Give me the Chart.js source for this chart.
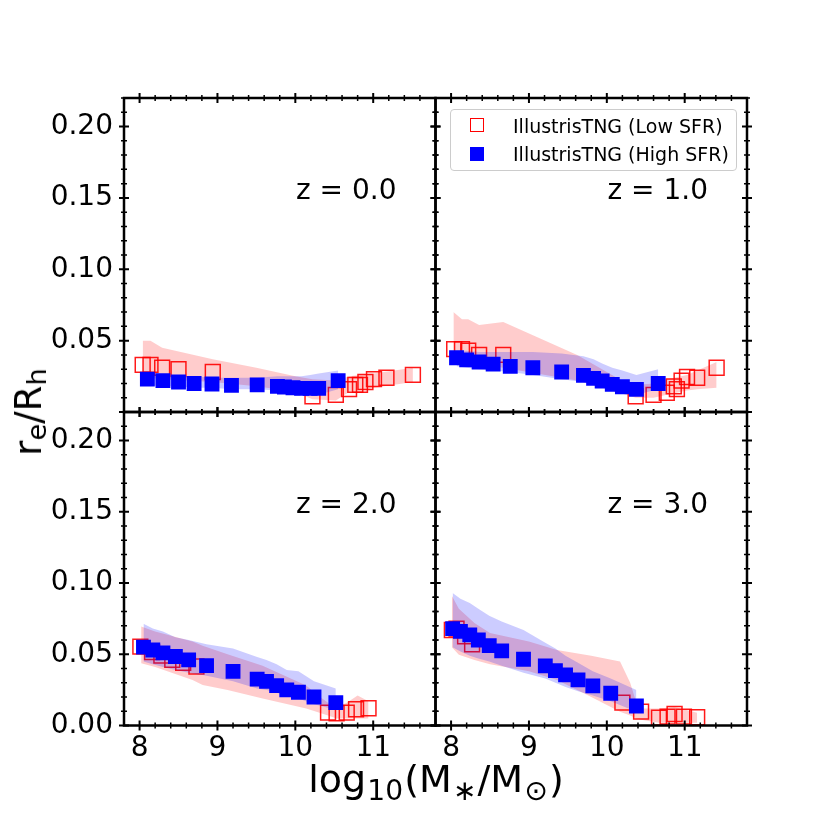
<!DOCTYPE html>
<html>
<head>
<meta charset="utf-8">
<script src="https://cdn.jsdelivr.net/npm/chart.js@4/dist/chart.umd.min.js"></script>
<style>
  body { margin: 0; background: #fff; }
  #fig { position: relative; width: 830px; height: 830px; font-family: "DejaVu Sans", sans-serif; color: #000; }
  #fig canvas { position: absolute; left: 0; top: 0; }
  #xlabel { position: absolute; left: 136px; width: 600px; top: 760px; text-align: center;
            font-size: 38px; line-height: 38px; white-space: nowrap; }
  #ylabel { position: absolute; left: 41px; top: 412px; transform-origin: 0 0;
            transform: rotate(-90deg) translate(-50%, -31px);
            font-size: 37px; line-height: 37px; white-space: nowrap; }
  #xlabel sub { font-size: 0.74em; position: relative; top: 0.3em; vertical-align: baseline; margin: 0 0.04em; }
  #ylabel sub { font-size: 0.74em; position: relative; top: 0.2em; vertical-align: baseline; }
  #legend { position: absolute; left: 450px; top: 109px; width: 287px; height: 62px; box-sizing: border-box;
            border: 1px solid #cccccc; border-radius: 4px; background: rgba(255,255,255,0.8); }
  #legend .mk { position: absolute; left: 19px; width: 14px; height: 14px; box-sizing: border-box; }
  #legend .tx { position: absolute; left: 62px; font-size: 19px; line-height: 19px; white-space: nowrap; }
</style>
</head>
<body>
<div id="fig">
  <canvas id="p0" width="830" height="830"></canvas>
  <canvas id="p1" width="830" height="830"></canvas>
  <canvas id="p2" width="830" height="830"></canvas>
  <canvas id="p3" width="830" height="830"></canvas>
  <div id="legend">
    <span class="mk" style="top:8px;border:1.5px solid #ff0000;"></span>
    <span class="tx" style="top:7px;">IllustrisTNG (Low SFR)</span>
    <span class="mk" style="top:37px;background:#0000ff;"></span>
    <span class="tx" style="top:35px;">IllustrisTNG (High SFR)</span>
  </div>
  <div id="xlabel">log<sub>10</sub>(M<sub>∗</sub>/M<sub>⊙</sub>)</div>
  <div id="ylabel">r<sub>e</sub>/R<sub>h</sub></div>
</div>
<script>
// axes
const xTicks = [8, 9, 10, 11];
const yTicks = [0.00, 0.05, 0.10, 0.15, 0.20];
const xRange = [7.8, 11.8];
const yRange = [0, 0.22];
const panelLabels = ['z = 0.0', 'z = 1.0', 'z = 2.0', 'z = 3.0'];

// z = 0.0
const z0LowX = [8.04, 8.14, 8.29, 8.50, 8.94, 10.22, 10.52, 10.69, 10.77, 10.83, 10.90, 11.01, 11.17, 11.51];
const z0LowY = [0.033, 0.033, 0.031, 0.030, 0.028, 0.011, 0.012, 0.016, 0.019, 0.019, 0.021, 0.023, 0.024, 0.026];
const z0LowBandX = [8.04, 8.14, 8.29, 8.94, 9.50, 10.00, 10.22, 10.52, 10.69, 11.01, 11.51];
const z0LowBandHi = [0.050, 0.050, 0.045, 0.037, 0.031, 0.025, 0.023, 0.022, 0.025, 0.027, 0.031];
const z0LowBandLo = [0.024, 0.024, 0.023, 0.021, 0.018, 0.014, 0.009, 0.008, 0.014, 0.017, 0.021];
const z0HighX = [8.10, 8.30, 8.50, 8.70, 8.93, 9.18, 9.51, 9.77, 9.86, 9.97, 10.08, 10.19, 10.30, 10.55];
const z0HighY = [0.023, 0.022, 0.021, 0.020, 0.0196, 0.0187, 0.019, 0.018, 0.0175, 0.017, 0.0166, 0.0166, 0.0166, 0.022];
const z0HighHi = [0.027, 0.026, 0.025, 0.025, 0.024, 0.024, 0.024, 0.025, 0.025, 0.025, 0.025, 0.026, 0.027, 0.029];
const z0HighLo = [0.019, 0.018, 0.018, 0.017, 0.017, 0.016, 0.016, 0.015, 0.014, 0.014, 0.013, 0.013, 0.012, 0.016];

// z = 1.0
const z1LowX = [8.04, 8.14, 8.22, 8.36, 8.67, 10.37, 10.60, 10.77, 10.86, 10.90, 10.96, 11.03, 11.16, 11.41];
const z1LowY = [0.044, 0.044, 0.043, 0.040, 0.040, 0.011, 0.012, 0.0135, 0.018, 0.016, 0.022, 0.0245, 0.024, 0.031];
const z1LowBandX = [8.03, 8.14, 8.22, 8.36, 8.67, 9.62, 10.19, 10.37, 10.60, 10.77, 11.03, 11.16, 11.41];
const z1LowBandHi = [0.070, 0.065, 0.065, 0.061, 0.063, 0.040, 0.022, 0.019, 0.020, 0.023, 0.026, 0.029, 0.035];
const z1LowBandLo = [0.036, 0.035, 0.034, 0.033, 0.031, 0.022, 0.013, 0.010, 0.010, 0.012, 0.015, 0.016, 0.017];
const z1HighX = [8.07, 8.20, 8.36, 8.54, 8.76, 9.05, 9.42, 9.70, 9.83, 9.94, 10.07, 10.20, 10.38, 10.66];
const z1HighY = [0.038, 0.0365, 0.035, 0.0335, 0.032, 0.031, 0.028, 0.0257, 0.0236, 0.0217, 0.0194, 0.0177, 0.0158, 0.020];
const z1HighHi = [0.043, 0.043, 0.042, 0.042, 0.042, 0.042, 0.041, 0.039, 0.037, 0.034, 0.031, 0.029, 0.026, 0.030];
const z1HighLo = [0.032, 0.031, 0.030, 0.029, 0.028, 0.026, 0.023, 0.021, 0.019, 0.018, 0.016, 0.014, 0.012, 0.016];

// z = 2.0
const z2LowX = [8.01, 8.16, 8.28, 8.42, 8.56, 8.73, 10.42, 10.53, 10.66, 10.78, 10.94];
const z2LowY = [0.0554, 0.0515, 0.049, 0.046, 0.044, 0.0414, 0.009, 0.0086, 0.009, 0.0114, 0.0121];
const z2LowBandX = [8.02, 8.20, 8.68, 8.81, 9.13, 9.58, 10.14, 10.27, 10.42, 10.53, 10.66, 10.80, 10.94];
const z2LowBandHi = [0.0695, 0.066, 0.059, 0.056, 0.050, 0.042, 0.028, 0.022, 0.016, 0.013, 0.016, 0.021, 0.017];
const z2LowBandLo = [0.0437, 0.041, 0.032, 0.0285, 0.025, 0.019, 0.012, 0.0097, 0.007, 0.005, 0.005, 0.005, 0.005];
const z2HighX = [8.05, 8.17, 8.30, 8.46, 8.63, 8.86, 9.20, 9.51, 9.63, 9.76, 9.89, 10.04, 10.24, 10.52];
const z2HighY = [0.055, 0.053, 0.051, 0.0484, 0.046, 0.042, 0.038, 0.0325, 0.031, 0.028, 0.025, 0.0233, 0.020, 0.016];
const z2HighHi = [0.0714, 0.068, 0.066, 0.062, 0.060, 0.057, 0.054, 0.048, 0.046, 0.043, 0.039, 0.038, 0.031, 0.026];
const z2HighLo = [0.045, 0.043, 0.041, 0.039, 0.037, 0.035, 0.031, 0.026, 0.025, 0.023, 0.021, 0.019, 0.015, 0.011];

// z = 3.0
const z3LowX = [8.01, 8.07, 8.18, 8.27, 10.20, 10.44, 10.67, 10.78, 10.87, 10.99, 11.16];
const z3LowY = [0.067, 0.068, 0.0625, 0.057, 0.016, 0.0097, 0.0055, 0.0062, 0.0081, 0.0062, 0.0058];
const z3LowBandX = [8.01, 8.10, 8.30, 8.50, 9.00, 9.36, 9.80, 10.17, 10.30, 10.38, 10.44, 10.67, 10.87, 11.16];
const z3LowBandHi = [0.091, 0.082, 0.072, 0.065, 0.059, 0.053, 0.049, 0.045, 0.030, 0.016, 0.012, 0.012, 0.013, 0.009];
const z3LowBandLo = [0.055, 0.0496, 0.046, 0.043, 0.038, 0.032, 0.020, 0.0097, 0.007, 0.005, 0.004, 0.002, 0.002, 0.002];
const z3HighX = [8.02, 8.12, 8.24, 8.35, 8.49, 8.65, 8.93, 9.21, 9.34, 9.47, 9.63, 9.82, 10.05, 10.38];
const z3HighY = [0.068, 0.066, 0.0636, 0.060, 0.056, 0.0524, 0.0465, 0.0418, 0.0385, 0.0355, 0.032, 0.0278, 0.0226, 0.0137];
const z3HighHi = [0.093, 0.089, 0.086, 0.082, 0.077, 0.073, 0.067, 0.058, 0.054, 0.049, 0.044, 0.038, 0.033, 0.025];
const z3HighLo = [0.055, 0.052, 0.049, 0.047, 0.045, 0.042, 0.037, 0.033, 0.030, 0.027, 0.024, 0.021, 0.017, 0.0097];

const BLUE = '#0000ff';
const TICK_FONT = { family: 'DejaVu Sans', size: 28 };

function pts(xs, ys) {
  return xs.map((x, i) => ({ x: x, y: ys[i] }));
}

// matplotlib style frame with in/out ticks on every side + panel label
const framePlugin = {
  id: 'frame',
  afterDatasetsDraw(chart, args, opts) {
    const { ctx, chartArea: a, scales } = chart;
    const xs = scales.x, ys = scales.y;
    ctx.save();
    ctx.strokeStyle = '#000';
    ctx.lineCap = 'butt';

    function xTick(v, len, w) {
      const px = xs.getPixelForValue(v);
      ctx.lineWidth = w;
      ctx.beginPath();
      ctx.moveTo(px, a.bottom - len); ctx.lineTo(px, a.bottom + len);
      ctx.moveTo(px, a.top - len); ctx.lineTo(px, a.top + len);
      ctx.stroke();
    }
    function yTick(v, len, w) {
      const py = ys.getPixelForValue(v);
      ctx.lineWidth = w;
      ctx.beginPath();
      ctx.moveTo(a.left - len, py); ctx.lineTo(a.left + len, py);
      ctx.moveTo(a.right - len, py); ctx.lineTo(a.right + len, py);
      ctx.stroke();
    }

    // minor ticks: 0.2 on x, 0.01 on y
    for (let k = Math.ceil(xRange[0] * 5 + 0.01); k < xRange[1] * 5 - 0.01; k++) {
      if (k % 5 !== 0) xTick(k / 5, 3, 1.5);
    }
    for (let k = 1; k <= Math.round(yRange[1] * 100); k++) {
      if (k % 5 !== 0) yTick(k / 100, 3, 1.5);
    }
    xTicks.forEach(v => xTick(v, 5, 2));
    yTicks.forEach(v => yTick(v, 5, 2));

    ctx.lineWidth = 2.5;
    ctx.strokeRect(a.left, a.top, a.right - a.left, a.bottom - a.top);

    ctx.fillStyle = '#000';
    ctx.font = '28px "DejaVu Sans"';
    ctx.textBaseline = 'alphabetic';
    ctx.textAlign = 'left';
    ctx.fillText(opts.text, a.left + 172, a.top + 101);
    ctx.restore();
  }
};

const boxes = [
  { l: 124, r: 435.5, t: 98, b: 412 },
  { l: 435.5, r: 747, t: 98, b: 412 },
  { l: 124, r: 435.5, t: 412, b: 725.5 },
  { l: 435.5, r: 747, t: 412, b: 725.5 }
];

const panels = [
  { low: [z0LowX, z0LowY], lowBand: [z0LowBandX, z0LowBandLo, z0LowBandHi], high: [z0HighX, z0HighY, z0HighLo, z0HighHi] },
  { low: [z1LowX, z1LowY], lowBand: [z1LowBandX, z1LowBandLo, z1LowBandHi], high: [z1HighX, z1HighY, z1HighLo, z1HighHi] },
  { low: [z2LowX, z2LowY], lowBand: [z2LowBandX, z2LowBandLo, z2LowBandHi], high: [z2HighX, z2HighY, z2HighLo, z2HighHi] },
  { low: [z3LowX, z3LowY], lowBand: [z3LowBandX, z3LowBandLo, z3LowBandHi], high: [z3HighX, z3HighY, z3HighLo, z3HighHi] }
];

function band(data, color, fill, order) {
  return {
    type: 'line', data: data, fill: fill, backgroundColor: color,
    borderWidth: 0, borderColor: 'rgba(0,0,0,0)', pointRadius: 0, tension: 0, order: order
  };
}

function makePanel(i) {
  const box = boxes[i];
  const p = panels[i];
  const showX = i >= 2;
  const showY = i % 2 === 0;
  const yW = showY ? 100 : 0;
  const xH = showX ? 45 : 0;

  new Chart(document.getElementById('p' + i), {
    type: 'scatter',
    data: {
      datasets: [
        band(pts(p.lowBand[0], p.lowBand[2]), 'rgba(255,0,0,0.2)', '+1', 6),
        band(pts(p.lowBand[0], p.lowBand[1]), 'rgba(255,0,0,0.2)', false, 5),
        {
          label: 'IllustrisTNG (Low SFR)', data: pts(p.low[0], p.low[1]), order: 4,
          pointStyle: 'rect', pointRadius: 10.5, pointBorderWidth: 1.5,
          pointBackgroundColor: 'rgba(0,0,0,0)', pointBorderColor: 'rgba(255,0,0,0.9)'
        },
        band(pts(p.high[0], p.high[3]), 'rgba(0,0,255,0.2)', '+1', 3),
        band(pts(p.high[0], p.high[2]), 'rgba(0,0,255,0.2)', false, 2),
        {
          label: 'IllustrisTNG (High SFR)', data: pts(p.high[0], p.high[1]), order: 1,
          pointStyle: 'rect', pointRadius: 10.5, pointBorderWidth: 0,
          pointBackgroundColor: BLUE, pointBorderColor: BLUE
        }
      ]
    },
    options: {
      responsive: false,
      animation: false,
      devicePixelRatio: 1,
      layout: {
        padding: { left: box.l - yW, right: 830 - box.r, top: box.t, bottom: 830 - box.b - xH }
      },
      plugins: {
        legend: { display: false },
        tooltip: { enabled: false },
        frame: { text: panelLabels[i] }
      },
      scales: {
        x: {
          type: 'linear', min: xRange[0], max: xRange[1],
          grid: { display: false, drawTicks: false },
          border: { display: false },
          ticks: {
            display: showX, font: TICK_FONT, color: '#000', padding: 6,
            autoSkip: false, maxRotation: 0, callback: v => String(v)
          },
          afterBuildTicks: s => { s.ticks = xTicks.map(v => ({ value: v })); },
          afterFit: s => { s.height = xH; }
        },
        y: {
          type: 'linear', min: yRange[0], max: yRange[1],
          grid: { display: false, drawTicks: false },
          border: { display: false },
          ticks: {
            display: showY, font: TICK_FONT, color: '#000', padding: 11, autoSkip: false,
            callback: v => (i >= 2 || v > 0.001) ? v.toFixed(2) : ''
          },
          afterBuildTicks: s => { s.ticks = yTicks.map(v => ({ value: v })); },
          afterFit: s => { s.width = yW; }
        }
      }
    },
    plugins: [framePlugin]
  });
}

for (let i = 0; i < 4; i++) makePanel(i);
</script>
</body>
</html>
